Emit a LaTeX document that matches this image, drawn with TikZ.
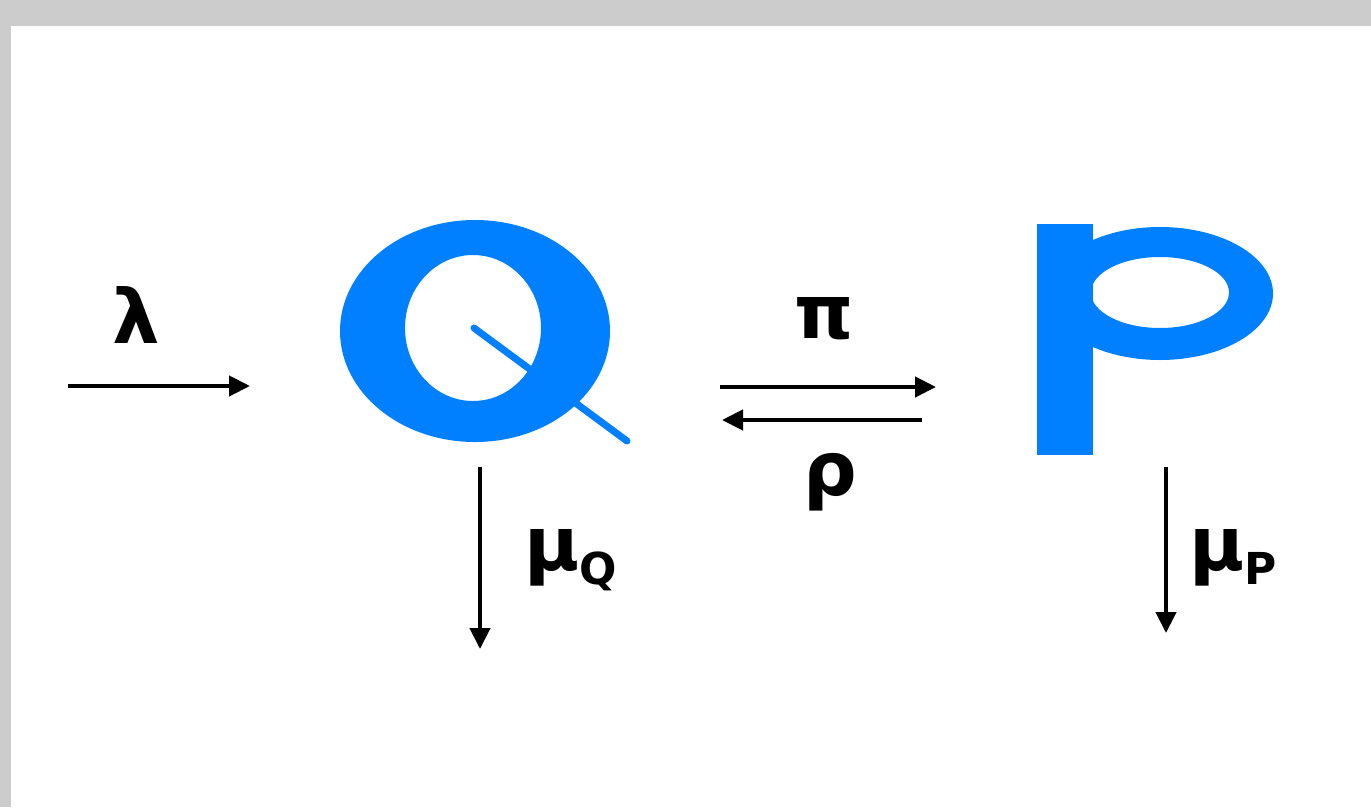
\documentclass[tikz,border=0pt]{standalone}
\usepackage{fontspec}
\setmainfont{DejaVu Sans}
\usetikzlibrary{arrows.meta}
\definecolor{qblue}{RGB}{0,128,255}
\definecolor{frame}{RGB}{204,204,204}
\tikzset{
  flow/.style={line width=4.3pt, -{Triangle[length=21pt,width=20pt]}},
  greek/.style={font=\fontsize{75}{90}\selectfont\bfseries, inner sep=0pt, anchor=base},
  letter/.style={fill=qblue, draw=none}
}
\newcommand{\subl}[1]{\raisebox{-14pt}{\fontsize{44}{50}\selectfont\bfseries #1}}
\begin{document}
\begin{tikzpicture}[x=1pt,y=-1pt]
\useasboundingbox (0,0) rectangle (1371,807);
\fill[frame] (0,0) rectangle (1371,807);
\fill[white] (11,26) rectangle (1371,807);
% Q
\fill[letter, even odd rule] (475,331) ellipse [x radius=135pt, y radius=111pt]
  (473,328) ellipse [x radius=68pt, y radius=73pt];
\draw[qblue, line width=7pt, line cap=round] (474,328) -- (627,441);
\node[inner sep=0pt] (Q) at (475,331) {};
% P
\fill[letter, even odd rule] (1160,293.5) ellipse [x radius=113pt, y radius=66.5pt]
  (1160,292.5) ellipse [x radius=69pt, y radius=35.5pt];
\fill[letter] (1037,224) rectangle (1093,455);
\node[inner sep=0pt] (P) at (1100,340) {};
% coordinates
\coordinate (l0) at (68,386);
\coordinate (l1) at (250,386);
\coordinate (pi0) at (720,387);
\coordinate (pi1) at (936,387);
\coordinate (rh0) at (922,420);
\coordinate (rh1) at (722,420);
\coordinate (mq0) at (480,467);
\coordinate (mq1) at (480,649);
\coordinate (mp0) at (1166,467);
\coordinate (mp1) at (1166,633);
\draw[flow] (l0) -- (l1);
\draw[flow] (pi0) -- (pi1);
\draw[flow] (rh0) -- (rh1);
\draw[flow] (mq0) -- (mq1);
\draw[flow] (mp0) -- (mp1);
% labels
\node[greek] (lam) at (136,343) {λ};
\node[greek] (pil) at (824,338) {π};
\node[greek] (rho) at (830,495) {ρ};
\node[greek, anchor=base west] (muq) at (524,570) {μ\subl{Q}};
\node[greek, anchor=base west] (mup) at (1189,570) {μ\subl{P}};
\end{tikzpicture}
\end{document}
